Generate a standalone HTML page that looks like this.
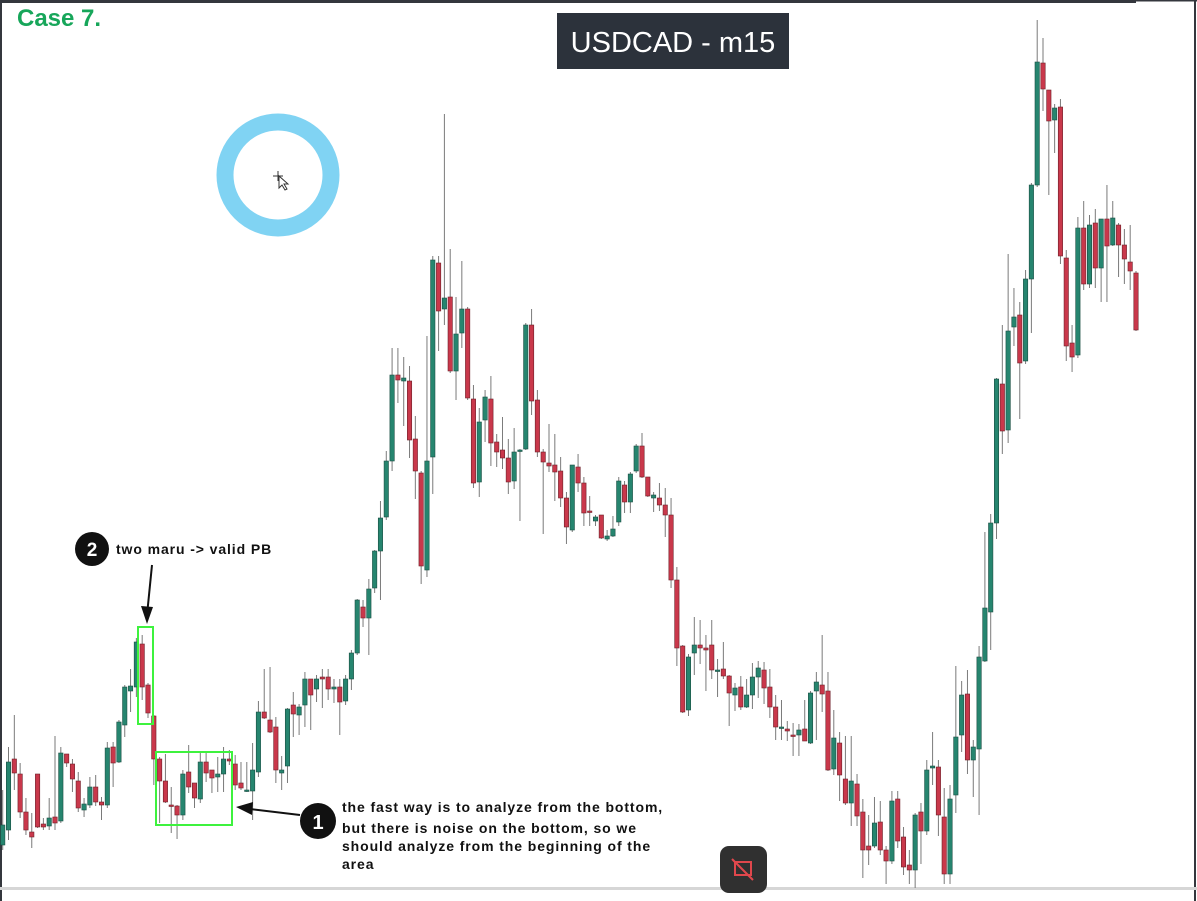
<!DOCTYPE html>
<html><head><meta charset="utf-8">
<style>
html,body{margin:0;padding:0;background:#fff;}
body{width:1197px;height:901px;overflow:hidden;position:relative;font-family:"Liberation Sans",Arial,sans-serif;}
svg{position:absolute;left:0;top:0;}
</style></head>
<body>
<svg id="chart" width="1197" height="901" viewBox="0 0 1197 901">
  <rect x="0" y="0" width="1197" height="901" fill="#fff"/>
  <rect x="0" y="0" width="1136" height="3" fill="#34373d"/>
  <rect x="1136" y="0" width="61" height="1.5" fill="#34373d"/>
  <rect x="0" y="0" width="2" height="901" fill="#34373d"/>
  <rect x="1194" y="0" width="2" height="901" fill="#34373d"/>
  <rect x="0" y="887" width="1197" height="3" fill="#d6d6d6"/>
  <g id="candles"></g>

  <text x="17" y="26" font-size="24" font-weight="bold" fill="#17a65a" font-family="Liberation Sans, sans-serif">Case 7.</text>
  <rect x="557" y="13" width="232" height="56" fill="#2c323b"/>
  <text x="673" y="52" font-size="29" fill="#fff" text-anchor="middle" font-family="Liberation Sans, sans-serif">USDCAD - m15</text>

  <circle cx="278" cy="175" r="53" fill="none" stroke="#80d3f3" stroke-width="17"/>
  <g stroke="#333" stroke-width="1" fill="none">
    <line x1="273" y1="176" x2="283" y2="176"/><line x1="278" y1="171" x2="278" y2="181"/>
    <path d="M279 176 L279 188 L282 185 L285 190 L287 189 L284 184 L288 184 Z" fill="#fff"/>
  </g>

  <rect x="138" y="627" width="15" height="97" fill="none" stroke="#3ef23e" stroke-width="2"/>
  <rect x="156" y="752" width="76" height="73" fill="none" stroke="#3ef23e" stroke-width="2"/>

  <circle cx="92" cy="549" r="17" fill="#111"/>
  <text x="92" y="556" font-size="19" font-weight="bold" fill="#fff" text-anchor="middle">2</text>
  <text x="116" y="554" font-size="14" font-weight="bold" fill="#111" letter-spacing="0.9">two maru -&gt; valid PB</text>
  <g>
    <line x1="152" y1="565" x2="147.5" y2="610" stroke="#111" stroke-width="2"/>
    <path d="M141 606 L147 624 L153 607 Z" fill="#111"/>
  </g>

  <circle cx="318" cy="821" r="18" fill="#111"/>
  <text x="318" y="829" font-size="20" font-weight="bold" fill="#fff" text-anchor="middle">1</text>
  <g>
    <line x1="300" y1="815" x2="250" y2="809" stroke="#111" stroke-width="2"/>
    <path d="M253 802 L236 807 L252 815 Z" fill="#111"/>
  </g>
  <g font-size="14" font-weight="bold" fill="#111" letter-spacing="0.9">
    <text x="342" y="812">the fast way is to analyze from the bottom,</text>
    <text x="342" y="833">but there is noise on the bottom, so we</text>
    <text x="342" y="851">should analyze from the beginning of the</text>
    <text x="342" y="869">area</text>
  </g>

  <g>
    <rect x="720" y="846" width="47" height="47" rx="9" fill="#303030"/>
    <rect x="735" y="862" width="16" height="13" fill="none" stroke="#e0474c" stroke-width="2"/>
    <line x1="732" y1="859" x2="753" y2="880" stroke="#e0474c" stroke-width="2"/>
  </g>
</svg>
<script>
const opens  = [55,70,141,126,88,68,126,76,74,83,79,146,136,119,90,95,113,98,95,153,138,175,209,213,256,215,184,141,119,95,94,85,128,117,101,138,130,123,126,141,136,117,109,109,128,188,180,173,127,134,195,185,195,221,211,223,223,211,213,199,221,247,293,282,312,349,383,439,525,519,519,461,427,330,443,637,591,603,529,567,591,501,418,480,501,458,450,442,419,449,451,575,500,448,437,435,429,402,370,433,417,389,379,385,361,364,378,415,398,429,454,423,402,402,395,385,320,254,190,247,255,252,255,230,231,224,205,213,193,205,223,230,213,193,173,171,165,165,171,157,209,215,209,131,157,121,97,116,88,54,54,78,50,39,101,63,35,30,88,69,132,133,83,26,105,165,206,140,151,239,288,377,516,470,573,585,539,621,715,837,810,780,793,642,557,545,672,616,677,632,681,655,675,655,638,627];
const highs  = [110,153,185,137,102,87,126,82,102,164,153,146,141,128,102,123,125,103,158,158,180,215,231,262,265,217,185,143,146,113,95,130,155,117,148,147,130,143,153,150,145,138,138,157,199,231,233,183,144,192,208,196,228,221,225,231,231,221,221,225,250,301,300,321,350,399,449,552,552,543,534,484,429,564,644,644,786,651,603,639,593,515,492,510,524,466,483,461,472,451,577,591,510,451,476,466,443,408,435,446,423,404,385,385,370,384,423,419,428,456,467,423,408,417,412,402,333,255,246,283,280,265,280,241,258,225,217,224,221,237,239,238,231,205,200,179,177,176,200,209,228,265,228,190,168,164,164,126,101,85,103,99,54,109,109,73,50,87,97,140,168,140,112,115,234,219,230,160,254,368,386,522,575,646,612,598,630,717,880,862,810,796,801,650,575,683,699,685,691,681,715,699,677,671,675,629];
const lows   = [50,60,110,82,65,52,72,70,70,70,77,133,108,88,83,92,94,80,92,113,137,163,188,203,200,182,115,77,97,67,61,80,107,92,97,118,107,108,108,135,110,110,108,80,123,181,167,117,110,117,163,165,173,170,198,192,200,197,165,195,210,245,273,245,307,300,380,429,497,474,442,401,316,323,406,549,575,527,500,552,500,412,403,458,434,433,431,406,411,379,450,485,443,366,428,399,393,356,368,408,374,374,374,361,359,363,374,387,387,427,422,403,388,389,363,312,234,187,184,225,236,209,221,203,221,174,189,190,192,191,202,196,182,160,160,159,144,144,159,156,160,188,129,125,99,95,74,74,22,35,52,45,16,36,52,25,16,12,36,65,115,64,16,16,87,148,126,103,85,238,250,361,446,457,554,481,536,567,713,789,705,747,636,539,528,542,610,612,612,598,598,654,623,616,610,569];
const closes = [75,138,127,88,70,63,73,73,82,77,147,137,121,92,96,113,98,95,152,137,178,213,214,258,213,187,141,119,98,94,85,126,113,102,138,127,122,126,141,139,115,112,110,130,188,182,168,130,130,191,186,193,221,205,221,221,211,213,198,221,247,300,282,311,349,382,439,525,520,522,460,429,334,439,640,589,602,529,566,591,502,417,478,503,457,448,442,418,448,450,575,499,448,438,434,428,402,373,435,417,387,388,383,362,364,371,419,398,426,454,423,404,405,395,385,320,252,188,243,255,252,250,230,230,224,207,212,193,205,223,232,212,193,173,173,169,164,170,159,207,218,206,130,162,125,97,119,84,50,50,77,50,39,99,59,33,30,85,69,130,134,85,26,101,163,205,140,153,243,292,377,521,469,569,583,537,621,715,838,811,779,792,644,554,543,672,616,675,632,681,654,682,655,641,629,570];

const svgNS = "http://www.w3.org/2000/svg";
const g = document.getElementById('candles');
const X0 = 2.7, X1 = 1136;
function xScale(i){ return X0 + i * (X1 - X0) / (opens.length - 1); }
function yScale(v){ return 900 - v; }
for (let i = 0; i < opens.length; i++) {
  const x = xScale(i);
  const up = closes[i] >= opens[i];
  const wick = document.createElementNS(svgNS, 'line');
  wick.setAttribute('x1', x); wick.setAttribute('x2', x);
  wick.setAttribute('y1', yScale(highs[i])); wick.setAttribute('y2', yScale(lows[i]));
  wick.setAttribute('stroke', '#7a7a7a'); wick.setAttribute('stroke-width', '1');
  
  
  g.appendChild(wick);
  const body = document.createElementNS(svgNS, 'rect');
  const top = yScale(Math.max(opens[i], closes[i]));
  const h = Math.max(1.5, Math.abs(opens[i] - closes[i]));
  body.setAttribute('x', x - 2.2); body.setAttribute('width', 4.4);
  body.setAttribute('y', top); body.setAttribute('height', h);
  body.setAttribute('fill', up ? '#26856f' : '#c9384b');
  body.setAttribute('stroke', up ? '#1b4f43' : '#6e2029');
  body.setAttribute('stroke-width', '0.6');
  
  
  g.appendChild(body);
}
</script>
</body></html>
